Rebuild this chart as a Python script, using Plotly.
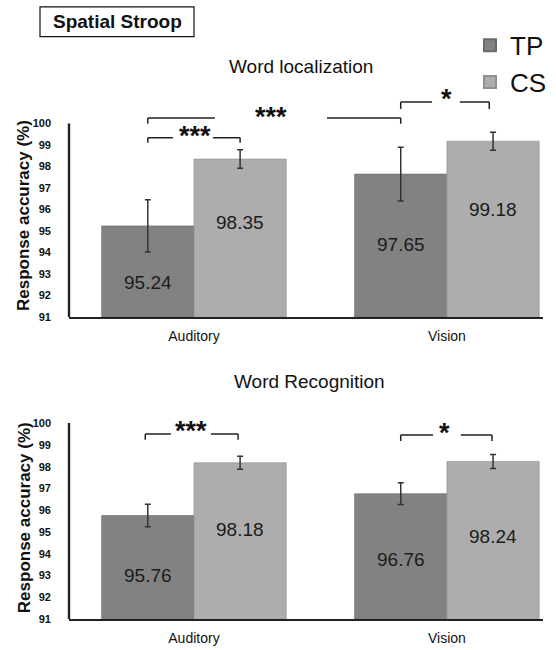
import plotly.graph_objects as go

# ---------------- data ----------------
groups = ["Auditory", "Vision"]
series = ["TP", "CS"]

loc_tp = [95.24, 97.65]
loc_cs = [98.35, 99.18]
loc_tp_err = [1.22, 1.25]
loc_cs_err = [0.43, 0.42]

rec_tp = [95.76, 96.76]
rec_cs = [98.18, 98.24]
rec_tp_err = [0.52, 0.5]
rec_cs_err = [0.3, 0.32]

y_ticks = [91, 92, 93, 94, 95, 96, 97, 98, 99, 100]

# ---------------- style ----------------
FONT = "Liberation Sans, Arial, sans-serif"
C_TP = "#828282"
C_CS = "#adadad"
BARGAP = 0.27
OFF = (1 - BARGAP) / 4  # offset of bar centre from group centre

# label heights (styling: where the value text sits inside the bar)
loc_label_y = [[92.7, 94.46], [95.47, 96.1]]
rec_label_y = [[93.1, 93.82], [95.2, 94.9]]

fig = go.Figure()

def add_panel(tp, cs, tp_err, cs_err, xa, ya, legend):
    fig.add_trace(go.Bar(
        x=groups, y=[v - 91 for v in tp], base=91, name="TP", marker=dict(color=C_TP, line=dict(color="#6a6a6a", width=0.6)),
        error_y=dict(type="data", array=tp_err, color="#333333", thickness=1.5, width=3),
        xaxis=xa, yaxis=ya, showlegend=legend, legendgroup="TP", hoverinfo="skip"))
    fig.add_trace(go.Bar(
        x=groups, y=[v - 91 for v in cs], base=91, name="CS", marker=dict(color=C_CS, line=dict(color="#8f8f8f", width=0.6)),
        error_y=dict(type="data", array=cs_err, color="#333333", thickness=1.5, width=3),
        xaxis=xa, yaxis=ya, showlegend=legend, legendgroup="CS", hoverinfo="skip"))

add_panel(loc_tp, loc_cs, loc_tp_err, loc_cs_err, "x", "y", True)
add_panel(rec_tp, rec_cs, rec_tp_err, rec_cs_err, "x2", "y2", False)

annotations = []
shapes = []

def value_labels(tp, cs, label_y, xref, yref):
    for gi in range(len(groups)):
        for si, (vals, sign) in enumerate([(tp, -1), (cs, 1)]):
            annotations.append(dict(
                x=gi + sign * OFF, y=label_y[si][gi], xref=xref, yref=yref,
                text=f"{vals[gi]:.2f}", showarrow=False, xanchor="center", yanchor="middle", yshift=-2,
                font=dict(family=FONT, size=19, color="#1c1c1c")))

value_labels(loc_tp, loc_cs, loc_label_y, "x", "y")
value_labels(rec_tp, rec_cs, rec_label_y, "x2", "y2")

def bracket(xref, yref, x0, x1, y, drop, gap0, gap1, text, tx, ty, size=27):
    ln = dict(color="#222222", width=1.5)
    shapes.append(dict(type="line", xref=xref, yref=yref, x0=x0, x1=x0, y0=y - drop, y1=y, line=ln))
    shapes.append(dict(type="line", xref=xref, yref=yref, x0=x0, x1=gap0, y0=y, y1=y, line=ln))
    shapes.append(dict(type="line", xref=xref, yref=yref, x0=gap1, x1=x1, y0=y, y1=y, line=ln))
    shapes.append(dict(type="line", xref=xref, yref=yref, x0=x1, x1=x1, y0=y - drop, y1=y, line=ln))
    annotations.append(dict(x=tx, y=ty, xref=xref, yref=yref, text=f"<b>{text}</b>", showarrow=False,
                            xanchor="center", yanchor="middle", yshift=-0.27 * size,
                            font=dict(family=FONT, size=size, color="#111111")))

# top panel brackets
bracket("x", "y", -OFF, OFF, 99.34, 0.23, -0.083, 0.075, "***", 0.004, 99.76)
bracket("x", "y", -OFF, 1 - OFF, 100.26, 0.27, 0.083, 0.526, "***", 0.304, 100.63)
bracket("x", "y", 1 - OFF, 1 + OFF - 0.015, 101.0, 0.32, 0.941, 1.051, "*", 1.0, 101.5)
# bottom panel brackets
bracket("x2", "y2", -OFF - 0.01, OFF - 0.008, 99.5, 0.27, -0.091, 0.067, "***", -0.012, 99.95)
bracket("x2", "y2", 1 - OFF, 1 + OFF - 0.004, 99.45, 0.27, 0.945, 1.055, "*", 0.992, 99.86)

# y axis lines (only from 91 to 100)
for xr, yr in [("x domain", "y"), ("x2 domain", "y2")]:
    shapes.append(dict(type="line", xref=xr, yref=yr, x0=0, x1=0, y0=91, y1=100,
                       line=dict(color="#222222", width=2.4)))

def paper_text(px, py, text, size, bold=False, angle=0):
    annotations.append(dict(x=px / 556, y=1 - py / 650, xref="paper", yref="paper",
                            text=f"<b>{text}</b>" if bold else text, textangle=angle,
                            xanchor="center", yanchor="middle", showarrow=False,
                            font=dict(family=FONT, size=size, color="#111111")))

# panel titles
paper_text(301, 67, "Word localization", 19)
paper_text(309, 385, "Word Recognition", 19)
# y-axis titles
paper_text(24, 218, "Response accuracy (%)", 17, bold=True, angle=-90)
paper_text(24, 523, "Response accuracy (%)", 17, bold=True, angle=-90)

# "Spatial Stroop" boxed label
shapes.append(dict(type="rect", xref="paper", yref="paper", x0=40 / 556, x1=194 / 556,
                   y0=1 - 37 / 650, y1=1 - 7 / 650, line=dict(color="#111111", width=1.2)))
paper_text(117, 22, "Spatial Stroop", 19, bold=True)

XDOM = [69 / 556, 543 / 556]
XRANGE = [-0.494, 1.38]

xaxis_common = dict(range=XRANGE, domain=XDOM, showline=True, linecolor="#222222", linewidth=2,
                    ticks="", showgrid=False, zeroline=False, fixedrange=True, ticklabelstandoff=5,
                    tickfont=dict(family=FONT, size=14, color="#111111"))
yaxis_common = dict(tickvals=y_ticks, ticktext=[str(t) for t in y_ticks], showgrid=False, zeroline=False,
                    showline=False, ticks="", ticklabelstandoff=17, fixedrange=True,
                    tickfont=dict(family=FONT, size=11, color="#111111", weight="bold"))

TOP_MAX = 101.9
BOT_MAX = 100.6
fig.update_layout(
    width=556, height=650,
    margin=dict(l=0, r=0, t=0, b=0),
    paper_bgcolor="white", plot_bgcolor="white",
    barmode="group", bargap=BARGAP, bargroupgap=0,
    xaxis=dict(**xaxis_common, anchor="y"),
    xaxis2=dict(**xaxis_common, anchor="y2"),
    yaxis=dict(**yaxis_common, range=[91, TOP_MAX],
               domain=[330 / 650, (650 - (320 - (TOP_MAX - 91) * 21.7)) / 650], anchor="x"),
    yaxis2=dict(**yaxis_common, range=[91, BOT_MAX],
                domain=[25 / 650, (650 - (625 - (BOT_MAX - 91) * 22)) / 650], anchor="x2"),
    legend=dict(x=470 / 556, y=1 - 22 / 650, xanchor="left", yanchor="top",
                font=dict(family=FONT, size=26, color="#111111"), bgcolor="rgba(0,0,0,0)",
                itemsizing="constant", tracegroupgap=0),
    annotations=annotations,
    shapes=shapes,
    font=dict(family=FONT),
)

fig.write_html("out.html", config={"displayModeBar": False},
               post_script="document.body.style.margin='0px';")
